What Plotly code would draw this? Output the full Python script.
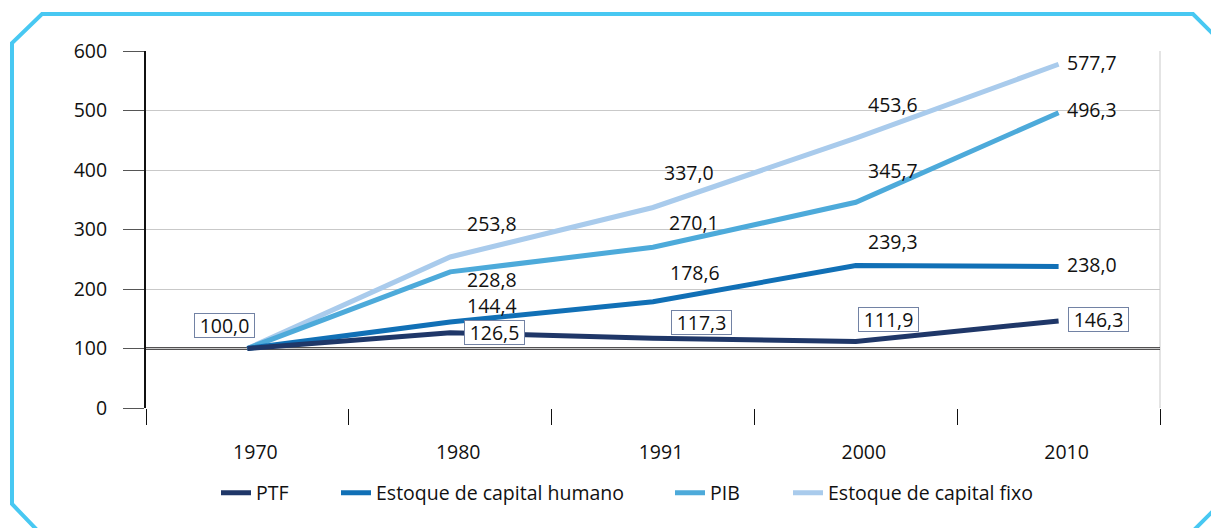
import plotly.graph_objects as go

# ---------------- data ----------------
anos = ["1970", "1980", "1991", "2000", "2010"]
ptf = [100.0, 126.5, 117.3, 111.9, 146.3]
capital_humano = [100.0, 144.4, 178.6, 239.3, 238.0]
pib = [100.0, 228.8, 270.1, 345.7, 496.3]
capital_fixo = [100.0, 253.8, 337.0, 453.6, 577.7]

nomes = ["PTF", "Estoque de capital humano", "PIB", "Estoque de capital fixo"]
cores = ["#1F3768", "#1170B6", "#4DAADA", "#A9CBEC"]

y_ticks = [0, 100, 200, 300, 400, 500, 600]

# ---------------- geometry helpers ----------------
W, H = 1211, 528
L, R, T, B = 146, 51, 51, 120
PW, PH = W - L - R, H - T - B


def px(xp):
    return (xp - L) / PW


def py(yp):
    return (H - B - yp) / PH


def fmt(v):
    return f"{v:.1f}".replace(".", ",")


FONT = "Open Sans"
FS = 19.5

fig = go.Figure()

series = [ptf, capital_humano, pib, capital_fixo]
legend_ids = ["legend", "legend2", "legend3", "legend4"]
# draw light series first so darker ones sit on top
for i in [3, 2, 1, 0]:
    fig.add_trace(go.Scatter(
        x=anos, y=series[i], name=nomes[i], mode="lines",
        line=dict(color=cores[i], width=5),
        legend=legend_ids[i], showlegend=True,
        hoverinfo="skip",
    ))

# ---------------- data labels (offsets in px from the point) ----------------
# (dx, dy) ; dy positive = up ; None = no label
off_fixo = [None, (42, 33), (36, 35), (37, 34), (33, 2)]
off_pib = [None, (42, -8), (41, 25), (37, 32), (33, 3)]
off_hum = [None, (42, 17), (42, 29), (37, 24), (33, 2)]
off_ptf = [(-23, 23), (44, 0), (48, 16), (33, 22), (40, 1)]

annotations = []
for vals, offs in [(capital_fixo, off_fixo), (pib, off_pib), (capital_humano, off_hum)]:
    for k, (v, o) in enumerate(zip(vals, offs)):
        if o is None:
            continue
        annotations.append(dict(
            x=k, y=v, xref="x", yref="y", text=fmt(v), showarrow=False,
            xshift=o[0], yshift=o[1],
            font=dict(family=FONT, size=FS, color="#111111"),
        ))
for k, (v, o) in enumerate(zip(ptf, off_ptf)):
    annotations.append(dict(
        x=k, y=v, xref="x", yref="y", text=fmt(v), showarrow=False,
        xshift=o[0], yshift=o[1],
        font=dict(family=FONT, size=FS, color="#111111"),
        bgcolor="white", bordercolor="#7282A4", borderwidth=1,
        borderpad=1, width=57, height=21,
    ))

# ---------------- shapes ----------------
frame_pts = [(38, 531), (12, 504), (12, 43), (42, 14), (1193, 14), (1216, 37),
             (1216, 508), (1193, 531)]
path = "M " + " L ".join(f"{px(a):.5f},{py(b):.5f}" for a, b in frame_pts)

shapes = [
    dict(type="path", xref="paper", yref="paper", path=path,
         line=dict(color="#48C8F2", width=4)),
    dict(type="line", xref="paper", yref="paper", x0=1, x1=1, y0=0, y1=1,
         line=dict(color="#C9C9C9", width=1), layer="below"),
    dict(type="line", xref="paper", yref="y", x0=0, x1=1, y0=100, y1=100,
         line=dict(color="#1A1718", width=2.5), layer="between"),
]

# ---------------- legends (one per series, positioned individually) ----------------
leg_text_start = [256, 376, 710, 828]
leg_y = py(493)
legends = {}
for lid, xs in zip(legend_ids, leg_text_start):
    legends[lid] = dict(
        x=px(xs - 40), y=leg_y, xanchor="left", yanchor="middle",
        orientation="h", bgcolor="rgba(0,0,0,0)", borderwidth=0,
        font=dict(family=FONT, size=FS, color="#111111"),
    )

fig.update_layout(
    width=W, height=H,
    margin=dict(l=L, r=R, t=T, b=B, pad=0),
    paper_bgcolor="white", plot_bgcolor="white",
    font=dict(family=FONT, size=FS, color="#111111"),
    xaxis=dict(
        type="category", categoryorder="array", categoryarray=anos,
        range=[-0.5, len(anos) - 0.5], autorange=False,
        showgrid=False, zeroline=False, showline=False,
        ticks="outside", tickson="boundaries", ticklen=16,
        tickcolor="#111111", tickwidth=1,
        ticklabelstandoff=30, ticklabelshift=8, tickangle=0,
        tickfont=dict(family=FONT, size=FS, color="#111111"),
        fixedrange=True,
    ),
    yaxis=dict(
        range=[0, 600], autorange=False, tickvals=y_ticks,
        ticktext=[str(t) for t in y_ticks],
        showgrid=True, gridcolor="#C9C9C9", gridwidth=1, zeroline=False,
        showline=True, linecolor="#111111", linewidth=2,
        ticks="outside", ticklen=21, tickcolor="#555555", tickwidth=1,
        ticklabelstandoff=12,
        tickfont=dict(family=FONT, size=FS, color="#111111"),
        fixedrange=True,
    ),
    annotations=annotations,
    shapes=shapes,
    **legends,
)

fig.write_html("out.html", config={"displayModeBar": False},
               post_script="document.body.style.margin='0';")
